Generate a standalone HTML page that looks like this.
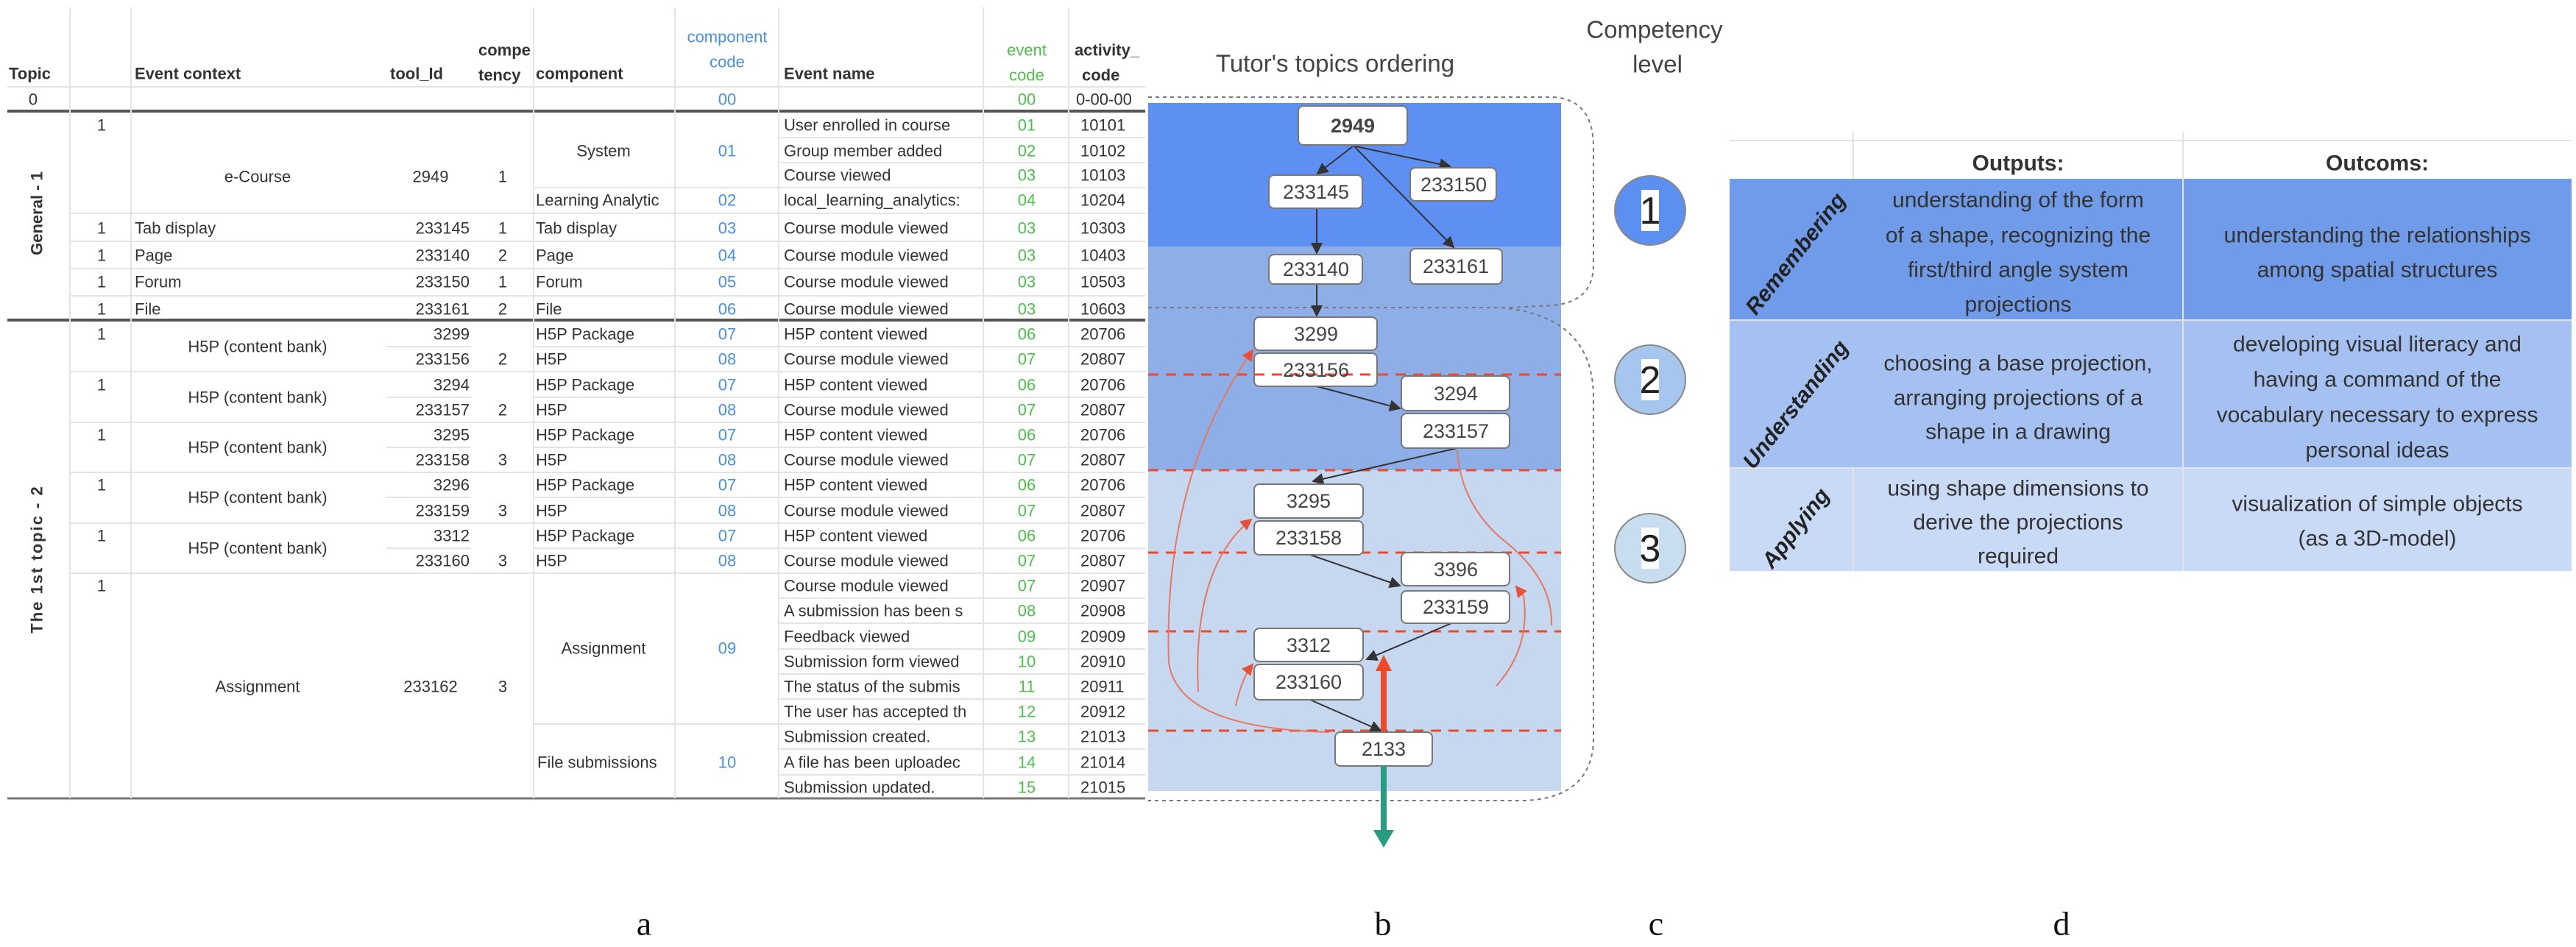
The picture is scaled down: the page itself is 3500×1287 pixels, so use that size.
<!DOCTYPE html>
<html><head><meta charset="utf-8"><style>
html,body{margin:0;padding:0;background:#fff}
svg{display:block}
text{font-family:"Liberation Sans",sans-serif}
.t{font-size:22px;fill:#333;dominant-baseline:central}
.b{font-weight:bold}
.bl{fill:#4a8fe0}
.gr{fill:#4cbf4c}
.n{font-size:27px;fill:#444;text-anchor:middle;dominant-baseline:central}
.d{font-size:30px;fill:#333;text-anchor:middle;dominant-baseline:central}
.hl{stroke:#e4e4e4;stroke-width:2}
</style></head><body>
<svg width="3500" height="1287" viewBox="0 0 3500 1287" xmlns="http://www.w3.org/2000/svg">
<defs>
<marker id="ar" markerWidth="8" markerHeight="8" refX="7" refY="4" orient="auto"><path d="M0,0 L8,4 L0,8z" fill="#333"/></marker>
<marker id="rr" markerWidth="8" markerHeight="8" refX="7" refY="4" orient="auto"><path d="M0,0 L8,4 L0,8z" fill="#e8503a"/></marker>
</defs>
<!-- ===== TABLE A ===== -->
<g>
<line x1="10" y1="118" x2="1556" y2="118" class="hl"/>
<line x1="10" y1="151" x2="1556" y2="151" stroke="#555" stroke-width="4"/>
<line x1="10" y1="435" x2="1556" y2="435" stroke="#555" stroke-width="4"/>
<line x1="10" y1="1085" x2="1556" y2="1085" stroke="#777" stroke-width="3"/>
<g class="hl">
<line x1="95" y1="10" x2="95" y2="1085"/><line x1="178" y1="10" x2="178" y2="1085"/>
<line x1="725" y1="10" x2="725" y2="1085"/><line x1="917" y1="10" x2="917" y2="1085"/>
<line x1="1058" y1="10" x2="1058" y2="1085"/><line x1="1336" y1="10" x2="1336" y2="1085"/><line x1="1452" y1="10" x2="1452" y2="1085"/>
<line x1="1058" y1="187" x2="1556" y2="187"/><line x1="1058" y1="221" x2="1556" y2="221"/>
<line x1="725" y1="255" x2="1556" y2="255"/>
<line x1="95" y1="290" x2="1556" y2="290"/><line x1="95" y1="328" x2="1556" y2="328"/>
<line x1="95" y1="365" x2="1556" y2="365"/><line x1="95" y1="402" x2="1556" y2="402"/>
<line x1="95" y1="505" x2="1556" y2="505"/><line x1="95" y1="574" x2="1556" y2="574"/>
<line x1="95" y1="642" x2="1556" y2="642"/><line x1="95" y1="711" x2="1556" y2="711"/><line x1="95" y1="779" x2="1556" y2="779"/>
<line x1="525" y1="471" x2="640" y2="471"/><line x1="725" y1="471" x2="1556" y2="471"/>
<line x1="525" y1="540" x2="640" y2="540"/><line x1="725" y1="540" x2="1556" y2="540"/>
<line x1="525" y1="608" x2="640" y2="608"/><line x1="725" y1="608" x2="1556" y2="608"/>
<line x1="525" y1="676" x2="640" y2="676"/><line x1="725" y1="676" x2="1556" y2="676"/>
<line x1="525" y1="745" x2="640" y2="745"/><line x1="725" y1="745" x2="1556" y2="745"/>
<line x1="1058" y1="813" x2="1556" y2="813"/><line x1="1058" y1="847" x2="1556" y2="847"/>
<line x1="1058" y1="882" x2="1556" y2="882"/><line x1="1058" y1="916" x2="1556" y2="916"/>
<line x1="1058" y1="950" x2="1556" y2="950"/><line x1="725" y1="984" x2="1556" y2="984"/>
<line x1="1058" y1="1018" x2="1556" y2="1018"/><line x1="1058" y1="1053" x2="1556" y2="1053"/>
</g>
<!-- header -->
<text class="t b" x="12" y="100">Topic</text>
<text class="t b" x="183" y="100">Event context</text>
<text class="t b" x="530" y="100">tool_Id</text>
<text class="t b" x="650" y="68">compe</text><text class="t b" x="650" y="102">tency</text>
<text class="t b" x="728" y="100">component</text>
<text class="t bl" x="988" y="50" text-anchor="middle">component</text><text class="t bl" x="988" y="84" text-anchor="middle">code</text>
<text class="t b" x="1065" y="100">Event name</text>
<text class="t gr" x="1395" y="68" text-anchor="middle">event</text><text class="t gr" x="1395" y="102" text-anchor="middle">code</text>
<text class="t b" x="1460" y="68">activity_</text><text class="t b" x="1470" y="102">code</text>
<text class="t" x="45" y="135" text-anchor="middle">0</text>
<text class="t bl" x="988" y="135" text-anchor="middle">00</text>
<text class="t gr" x="1395" y="135" text-anchor="middle">00</text>
<text class="t" x="1462" y="135">0-00-00</text>
<text class="t b" transform="translate(50,290) rotate(-90)" text-anchor="middle">General - 1</text>
<text class="t b" transform="translate(50,760) rotate(-90)" text-anchor="middle" letter-spacing="2">The 1st topic - 2</text>
<!-- general rows -->
<text class="t" x="138" y="170" text-anchor="middle">1</text>
<text class="t" x="350" y="240" text-anchor="middle">e-Course</text>
<text class="t" x="585" y="240" text-anchor="middle">2949</text>
<text class="t" x="683" y="240" text-anchor="middle">1</text>
<text class="t" x="820" y="205" text-anchor="middle">System</text>
<text class="t bl" x="988" y="205" text-anchor="middle">01</text>
<text class="t" x="728" y="272">Learning Analytic</text>
<text class="t bl" x="988" y="272" text-anchor="middle">02</text>
<text class="t" x="1065" y="170">User enrolled in course</text><text class="t gr" x="1395" y="170" text-anchor="middle">01</text><text class="t" x="1468" y="170">10101</text>
<text class="t" x="1065" y="205">Group member added</text><text class="t gr" x="1395" y="205" text-anchor="middle">02</text><text class="t" x="1468" y="205">10102</text>
<text class="t" x="1065" y="238">Course viewed</text><text class="t gr" x="1395" y="238" text-anchor="middle">03</text><text class="t" x="1468" y="238">10103</text>
<text class="t" x="1065" y="272">local_learning_analytics:</text><text class="t gr" x="1395" y="272" text-anchor="middle">04</text><text class="t" x="1468" y="272">10204</text>
<g>
<text class="t" x="138" y="310" text-anchor="middle">1</text><text class="t" x="183" y="310">Tab display</text><text class="t" x="638" y="310" text-anchor="end">233145</text><text class="t" x="683" y="310" text-anchor="middle">1</text><text class="t" x="728" y="310">Tab display</text><text class="t bl" x="988" y="310" text-anchor="middle">03</text><text class="t" x="1065" y="310">Course module viewed</text><text class="t gr" x="1395" y="310" text-anchor="middle">03</text><text class="t" x="1468" y="310">10303</text>
<text class="t" x="138" y="347" text-anchor="middle">1</text><text class="t" x="183" y="347">Page</text><text class="t" x="638" y="347" text-anchor="end">233140</text><text class="t" x="683" y="347" text-anchor="middle">2</text><text class="t" x="728" y="347">Page</text><text class="t bl" x="988" y="347" text-anchor="middle">04</text><text class="t" x="1065" y="347">Course module viewed</text><text class="t gr" x="1395" y="347" text-anchor="middle">03</text><text class="t" x="1468" y="347">10403</text>
<text class="t" x="138" y="383" text-anchor="middle">1</text><text class="t" x="183" y="383">Forum</text><text class="t" x="638" y="383" text-anchor="end">233150</text><text class="t" x="683" y="383" text-anchor="middle">1</text><text class="t" x="728" y="383">Forum</text><text class="t bl" x="988" y="383" text-anchor="middle">05</text><text class="t" x="1065" y="383">Course module viewed</text><text class="t gr" x="1395" y="383" text-anchor="middle">03</text><text class="t" x="1468" y="383">10503</text>
<text class="t" x="138" y="420" text-anchor="middle">1</text><text class="t" x="183" y="420">File</text><text class="t" x="638" y="420" text-anchor="end">233161</text><text class="t" x="683" y="420" text-anchor="middle">2</text><text class="t" x="728" y="420">File</text><text class="t bl" x="988" y="420" text-anchor="middle">06</text><text class="t" x="1065" y="420">Course module viewed</text><text class="t gr" x="1395" y="420" text-anchor="middle">03</text><text class="t" x="1468" y="420">10603</text>
</g>
<!-- H5P pairs -->
<g>
<text class="t" x="138" y="454" text-anchor="middle">1</text><text class="t" x="350" y="471" text-anchor="middle">H5P (content bank)</text>
<text class="t" x="638" y="454" text-anchor="end">3299</text><text class="t" x="638" y="488" text-anchor="end">233156</text><text class="t" x="683" y="488" text-anchor="middle">2</text>
<text class="t" x="728" y="454">H5P Package</text><text class="t" x="728" y="488">H5P</text><text class="t bl" x="988" y="454" text-anchor="middle">07</text><text class="t bl" x="988" y="488" text-anchor="middle">08</text>
<text class="t" x="1065" y="454">H5P content viewed</text><text class="t" x="1065" y="488">Course module viewed</text><text class="t gr" x="1395" y="454" text-anchor="middle">06</text><text class="t gr" x="1395" y="488" text-anchor="middle">07</text><text class="t" x="1468" y="454">20706</text><text class="t" x="1468" y="488">20807</text>

<text class="t" x="138" y="523" text-anchor="middle">1</text><text class="t" x="350" y="540" text-anchor="middle">H5P (content bank)</text>
<text class="t" x="638" y="523" text-anchor="end">3294</text><text class="t" x="638" y="557" text-anchor="end">233157</text><text class="t" x="683" y="557" text-anchor="middle">2</text>
<text class="t" x="728" y="523">H5P Package</text><text class="t" x="728" y="557">H5P</text><text class="t bl" x="988" y="523" text-anchor="middle">07</text><text class="t bl" x="988" y="557" text-anchor="middle">08</text>
<text class="t" x="1065" y="523">H5P content viewed</text><text class="t" x="1065" y="557">Course module viewed</text><text class="t gr" x="1395" y="523" text-anchor="middle">06</text><text class="t gr" x="1395" y="557" text-anchor="middle">07</text><text class="t" x="1468" y="523">20706</text><text class="t" x="1468" y="557">20807</text>

<text class="t" x="138" y="591" text-anchor="middle">1</text><text class="t" x="350" y="608" text-anchor="middle">H5P (content bank)</text>
<text class="t" x="638" y="591" text-anchor="end">3295</text><text class="t" x="638" y="625" text-anchor="end">233158</text><text class="t" x="683" y="625" text-anchor="middle">3</text>
<text class="t" x="728" y="591">H5P Package</text><text class="t" x="728" y="625">H5P</text><text class="t bl" x="988" y="591" text-anchor="middle">07</text><text class="t bl" x="988" y="625" text-anchor="middle">08</text>
<text class="t" x="1065" y="591">H5P content viewed</text><text class="t" x="1065" y="625">Course module viewed</text><text class="t gr" x="1395" y="591" text-anchor="middle">06</text><text class="t gr" x="1395" y="625" text-anchor="middle">07</text><text class="t" x="1468" y="591">20706</text><text class="t" x="1468" y="625">20807</text>

<text class="t" x="138" y="659" text-anchor="middle">1</text><text class="t" x="350" y="676" text-anchor="middle">H5P (content bank)</text>
<text class="t" x="638" y="659" text-anchor="end">3296</text><text class="t" x="638" y="694" text-anchor="end">233159</text><text class="t" x="683" y="694" text-anchor="middle">3</text>
<text class="t" x="728" y="659">H5P Package</text><text class="t" x="728" y="694">H5P</text><text class="t bl" x="988" y="659" text-anchor="middle">07</text><text class="t bl" x="988" y="694" text-anchor="middle">08</text>
<text class="t" x="1065" y="659">H5P content viewed</text><text class="t" x="1065" y="694">Course module viewed</text><text class="t gr" x="1395" y="659" text-anchor="middle">06</text><text class="t gr" x="1395" y="694" text-anchor="middle">07</text><text class="t" x="1468" y="659">20706</text><text class="t" x="1468" y="694">20807</text>

<text class="t" x="138" y="728" text-anchor="middle">1</text><text class="t" x="350" y="745" text-anchor="middle">H5P (content bank)</text>
<text class="t" x="638" y="728" text-anchor="end">3312</text><text class="t" x="638" y="762" text-anchor="end">233160</text><text class="t" x="683" y="762" text-anchor="middle">3</text>
<text class="t" x="728" y="728">H5P Package</text><text class="t" x="728" y="762">H5P</text><text class="t bl" x="988" y="728" text-anchor="middle">07</text><text class="t bl" x="988" y="762" text-anchor="middle">08</text>
<text class="t" x="1065" y="728">H5P content viewed</text><text class="t" x="1065" y="762">Course module viewed</text><text class="t gr" x="1395" y="728" text-anchor="middle">06</text><text class="t gr" x="1395" y="762" text-anchor="middle">07</text><text class="t" x="1468" y="728">20706</text><text class="t" x="1468" y="762">20807</text>
</g>
<!-- Assignment -->
<text class="t" x="138" y="796" text-anchor="middle">1</text>
<text class="t" x="350" y="933" text-anchor="middle">Assignment</text>
<text class="t" x="585" y="933" text-anchor="middle">233162</text>
<text class="t" x="683" y="933" text-anchor="middle">3</text>
<text class="t" x="820" y="881" text-anchor="middle">Assignment</text>
<text class="t bl" x="988" y="881" text-anchor="middle">09</text>
<text class="t" x="730" y="1036">File submissions</text>
<text class="t bl" x="988" y="1036" text-anchor="middle">10</text>
<g>
<text class="t" x="1065" y="796">Course module viewed</text><text class="t gr" x="1395" y="796" text-anchor="middle">07</text><text class="t" x="1468" y="796">20907</text>
<text class="t" x="1065" y="830">A submission has been s</text><text class="t gr" x="1395" y="830" text-anchor="middle">08</text><text class="t" x="1468" y="830">20908</text>
<text class="t" x="1065" y="865">Feedback viewed</text><text class="t gr" x="1395" y="865" text-anchor="middle">09</text><text class="t" x="1468" y="865">20909</text>
<text class="t" x="1065" y="899">Submission form viewed</text><text class="t gr" x="1395" y="899" text-anchor="middle">10</text><text class="t" x="1468" y="899">20910</text>
<text class="t" x="1065" y="933">The status of the submis</text><text class="t gr" x="1395" y="933" text-anchor="middle">11</text><text class="t" x="1468" y="933">20911</text>
<text class="t" x="1065" y="967">The user has accepted th</text><text class="t gr" x="1395" y="967" text-anchor="middle">12</text><text class="t" x="1468" y="967">20912</text>
<text class="t" x="1065" y="1001">Submission created.</text><text class="t gr" x="1395" y="1001" text-anchor="middle">13</text><text class="t" x="1468" y="1001">21013</text>
<text class="t" x="1065" y="1036">A file has been uploadec</text><text class="t gr" x="1395" y="1036" text-anchor="middle">14</text><text class="t" x="1468" y="1036">21014</text>
<text class="t" x="1065" y="1070">Submission updated.</text><text class="t gr" x="1395" y="1070" text-anchor="middle">15</text><text class="t" x="1468" y="1070">21015</text>
</g>
</g>

<!-- ===== DIAGRAM B ===== -->
<text x="1814" y="86" font-size="33" fill="#444" text-anchor="middle" dominant-baseline="central">Tutor's topics ordering</text>
<rect x="1560" y="140" width="561" height="195" fill="#5e8ff2"/>
<rect x="1560" y="335" width="561" height="304" fill="#8daee6"/>
<rect x="1560" y="639" width="561" height="436" fill="#c6d7f0"/>
<!-- dotted braces -->
<path d="M1560,132 L2110,132 Q2165,135 2165,200 L2165,360 Q2165,410 2110,415 L2050,418" fill="none" stroke="#777" stroke-width="2" stroke-dasharray="5,5"/>
<path d="M1560,418 L2040,418 Q2165,430 2165,540 L2165,1010 Q2160,1085 2070,1088 L1560,1088" fill="none" stroke="#777" stroke-width="2" stroke-dasharray="5,5"/>
<!-- red dashed lines -->
<g stroke="#ee4a2a" stroke-width="3" stroke-dasharray="14,10">
<line x1="1560" y1="509" x2="2121" y2="509"/><line x1="1560" y1="639" x2="2121" y2="639"/>
<line x1="1560" y1="751" x2="2121" y2="751"/><line x1="1560" y1="858" x2="2121" y2="858"/>
<line x1="1560" y1="993" x2="2121" y2="993"/>
</g>
<!-- red curves -->
<g fill="none" stroke="#e8775f" stroke-width="2">
<path d="M1806,995 Q1600,990 1588,900 Q1580,650 1702,476" marker-end="url(#rr)"/>
<path d="M1628,940 Q1620,770 1700,706" marker-end="url(#rr)"/>
<path d="M1679,959 Q1688,920 1702,903" marker-end="url(#rr)"/>
<path d="M1980,612 Q1985,690 2050,740 Q2110,790 2108,850"/>
<path d="M2033,932 Q2080,880 2070,810 L2060,797" marker-end="url(#rr)"/>
</g>
<!-- dark arrows -->
<g stroke="#333" stroke-width="2" fill="none" marker-end="url(#ar)">
<line x1="1838" y1="199" x2="1790" y2="236"/>
<line x1="1842" y1="199" x2="1970" y2="226"/>
<line x1="1840" y1="199" x2="1975" y2="336"/>
<line x1="1789" y1="283" x2="1789" y2="344"/>
<line x1="1789" y1="386" x2="1789" y2="429"/>
<line x1="1789" y1="525" x2="1902" y2="555"/>
<line x1="1980" y1="609" x2="1784" y2="654"/>
<line x1="1780" y1="754" x2="1902" y2="796"/>
<line x1="1972" y1="847" x2="1857" y2="896"/>
<line x1="1780" y1="951" x2="1876" y2="993"/>
</g>
<!-- nodes -->
<g fill="#fff" stroke="#777" stroke-width="2">
<rect x="1764" y="144" width="148" height="53" rx="7"/>
<rect x="1724" y="238" width="127" height="45" rx="7"/>
<rect x="1916" y="228" width="117" height="45" rx="7"/>
<rect x="1724" y="346" width="127" height="40" rx="7"/>
<rect x="1916" y="338" width="125" height="48" rx="7"/>
<rect x="1704" y="431" width="167" height="45" rx="7"/>
<rect x="1704" y="480" width="167" height="45" rx="7"/>
<rect x="1904" y="511" width="147" height="47" rx="7"/>
<rect x="1904" y="562" width="147" height="47" rx="7"/>
<rect x="1704" y="658" width="148" height="46" rx="7"/>
<rect x="1704" y="708" width="148" height="46" rx="7"/>
<rect x="1904" y="751" width="147" height="45" rx="7"/>
<rect x="1904" y="803" width="147" height="44" rx="7"/>
<rect x="1704" y="854" width="148" height="45" rx="7"/>
<rect x="1704" y="903" width="148" height="48" rx="7"/>
<rect x="1814" y="995" width="132" height="46" rx="7"/>
</g>
<line x1="1704" y1="509" x2="1871" y2="509" stroke="#ee4a2a" stroke-width="3" stroke-dasharray="14,10"/>
<text class="n b" x="1838" y="171">2949</text>
<text class="n" x="1788" y="261">233145</text>
<text class="n" x="1975" y="251">233150</text>
<text class="n" x="1788" y="366">233140</text>
<text class="n" x="1978" y="362">233161</text>
<text class="n" x="1788" y="454">3299</text>
<text class="n" x="1788" y="503">233156</text>
<text class="n" x="1978" y="535">3294</text>
<text class="n" x="1978" y="586">233157</text>
<text class="n" x="1778" y="681">3295</text>
<text class="n" x="1778" y="731">233158</text>
<text class="n" x="1978" y="774">3396</text>
<text class="n" x="1978" y="825">233159</text>
<text class="n" x="1778" y="877">3312</text>
<text class="n" x="1778" y="927">233160</text>
<text class="n" x="1880" y="1018">2133</text>
<!-- red up arrow -->
<path d="M1876,993 L1876,912 L1869,912 L1880,890 L1891,912 L1884,912 L1884,993Z" fill="#ee4a2a"/>
<!-- green down arrow -->
<path d="M1876,1041 L1876,1128 L1866,1128 L1880,1152 L1894,1128 L1884,1128 L1884,1041Z" fill="#2a9d80"/>

<!-- ===== C ===== -->
<text x="2248" y="40" font-size="33" fill="#444" text-anchor="middle" dominant-baseline="central">Competency</text>
<text x="2252" y="87" font-size="33" fill="#444" text-anchor="middle" dominant-baseline="central">level</text>
<g stroke="#888" stroke-width="2">
<ellipse cx="2242" cy="286" rx="48" ry="47" fill="#5b8ff0"/>
<ellipse cx="2242" cy="516" rx="48" ry="47" fill="#a6c6ee"/>
<ellipse cx="2242" cy="745" rx="48" ry="47" fill="#c9ddf1"/>
</g>
<rect x="2230" y="258" width="24" height="56" fill="#fff"/>
<rect x="2230" y="488" width="24" height="56" fill="#fff"/>
<rect x="2230" y="717" width="24" height="56" fill="#fff"/>
<text x="2242" y="287" font-size="52" fill="#222" text-anchor="middle" dominant-baseline="central">1</text>
<text x="2242" y="517" font-size="52" fill="#222" text-anchor="middle" dominant-baseline="central">2</text>
<text x="2242" y="746" font-size="52" fill="#222" text-anchor="middle" dominant-baseline="central">3</text>

<!-- ===== D ===== -->
<rect x="2350" y="243" width="1144" height="192" fill="#6f9be8"/>
<rect x="2350" y="435" width="1144" height="201" fill="#a4c1f2"/>
<rect x="2350" y="636" width="1144" height="140" fill="#c9daf6"/>
<g stroke="#e3e3e3" stroke-width="2">
<line x1="2350" y1="191" x2="3494" y2="191"/>
<line x1="2518" y1="180" x2="2518" y2="243"/><line x1="2966" y1="180" x2="2966" y2="776"/>
<line x1="2518" y1="636" x2="2518" y2="776"/>
<line x1="2350" y1="435" x2="3494" y2="435"/><line x1="2350" y1="636" x2="3494" y2="636"/>
</g>
<text class="d b" x="2742" y="222">Outputs:</text>
<text class="d b" x="3230" y="222">Outcoms:</text>
<g font-size="30" font-weight="bold" font-style="italic" fill="#222">
<text transform="translate(2440,345) rotate(-52)" text-anchor="middle" dominant-baseline="central">Remembering</text>
<text transform="translate(2440,550) rotate(-52)" text-anchor="middle" dominant-baseline="central">Understanding</text>
<text transform="translate(2440,718) rotate(-52)" text-anchor="middle" dominant-baseline="central">Applying</text>
</g>
<text class="d" x="2742" y="272">understanding of the form</text>
<text class="d" x="2742" y="320">of a shape, recognizing the</text>
<text class="d" x="2742" y="367">first/third angle system</text>
<text class="d" x="2742" y="414">projections</text>
<text class="d" x="3230" y="320">understanding the relationships</text>
<text class="d" x="3230" y="367">among spatial structures</text>
<text class="d" x="2742" y="494">choosing a base projection,</text>
<text class="d" x="2742" y="541">arranging projections of a</text>
<text class="d" x="2742" y="587">shape in a drawing</text>
<text class="d" x="3230" y="468">developing visual literacy and</text>
<text class="d" x="3230" y="516">having a command of the</text>
<text class="d" x="3230" y="564">vocabulary necessary to express</text>
<text class="d" x="3230" y="612">personal ideas</text>
<text class="d" x="2742" y="664">using shape dimensions to</text>
<text class="d" x="2742" y="710">derive the projections</text>
<text class="d" x="2742" y="756">required</text>
<text class="d" x="3230" y="685">visualization of simple objects</text>
<text class="d" x="3230" y="732">(as a 3D-model)</text>

<!-- labels -->
<g font-family="Liberation Serif, serif" font-size="46" fill="#111" text-anchor="middle" dominant-baseline="central">
<text x="875" y="1255" style="font-family:'Liberation Serif',serif">a</text>
<text x="1879" y="1255" style="font-family:'Liberation Serif',serif">b</text>
<text x="2250" y="1255" style="font-family:'Liberation Serif',serif">c</text>
<text x="2801" y="1255" style="font-family:'Liberation Serif',serif">d</text>
</g>
</svg>
</body></html>
